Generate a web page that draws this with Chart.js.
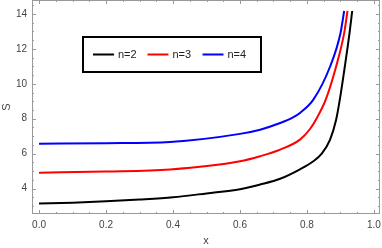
<!DOCTYPE html>
<html>
<head>
<meta charset="utf-8">
<script src="https://cdn.jsdelivr.net/npm/chart.js@4.4.1/dist/chart.umd.min.js"></script>
<style>
html,body{margin:0;padding:0;background:#fff;}
#wrap{width:382px;height:248px;position:relative;}
</style>
</head>
<body>
<div id="wrap"><canvas id="c" width="382" height="248"></canvas></div>
<script>
// ---- data ----
const seriesLabels = ["n=2", "n=3", "n=4"];
const seriesColors = ["#000000", "#ff0000", "#0000ff"];

const n2X = [0, 0.1, 0.2, 0.3, 0.4, 0.5, 0.6, 0.66, 0.72, 0.779, 0.819, 0.844, 0.869, 0.887, 0.898, 0.913, 0.927, 0.935];
const n2Y = [3.14, 3.19, 3.27, 3.37, 3.5, 3.72, 3.96, 4.23, 4.56, 5.1, 5.56, 6.0, 6.8, 7.94, 9.09, 10.99, 12.9, 14.17];

const n3X = [0, 0.2, 0.391, 0.6, 0.66, 0.72, 0.779, 0.809, 0.83, 0.856, 0.887, 0.911, 0.921];
const n3Y = [4.91, 4.97, 5.09, 5.56, 5.85, 6.23, 6.8, 7.41, 8.06, 9.09, 10.99, 12.9, 14.17];

const n4X = [0, 0.2, 0.391, 0.6, 0.66, 0.72, 0.757, 0.779, 0.819, 0.869, 0.9, 0.911];
const n4Y = [6.57, 6.6, 6.67, 7.13, 7.37, 7.75, 8.06, 8.33, 9.09, 10.99, 12.9, 14.17];

const xTicks = [0, 0.2, 0.4, 0.6, 0.8, 1.0];
const yTicks = [4, 6, 8, 10, 12, 14];
const xTitle = "x";
const yTitle = "S";

function pts(xs, ys){ return xs.map((x,i)=>({x:x, y:ys[i]})); }

const allX = [n2X, n3X, n4X];
const allY = [n2Y, n3Y, n4Y];

Chart.defaults.font.family = "'Liberation Sans', Arial, sans-serif";
Chart.defaults.font.size = 10;
Chart.defaults.color = "#444";

const framePlugin = {
  id: 'frame',
  afterDraw(chart){
    const ctx = chart.ctx;
    const xs = chart.scales.x, ys = chart.scales.y;
    const L = chart.chartArea.left, R = chart.chartArea.right, T = chart.chartArea.top, B = chart.chartArea.bottom;
    ctx.save();
    ctx.strokeStyle = '#999';
    ctx.lineWidth = 1;
    ctx.strokeRect(Math.round(L)+0.5, Math.round(T)+0.5, Math.round(R-L)-1, Math.round(B-T)-1);
    ctx.beginPath();
    for (let k = 0; k <= 20; k++){
      const v = k*0.05;
      const px = Math.round(xs.getPixelForValue(v)) + 0.5;
      const len = (k % 4 === 0) ? 4 : 2;
      ctx.moveTo(px, B); ctx.lineTo(px, B - len);
      ctx.moveTo(px, T); ctx.lineTo(px, T + len);
    }
    for (let k = 6; k <= 29; k++){
      const v = k*0.5;
      if (v < ys.min || v > ys.max) continue;
      const py = Math.round(ys.getPixelForValue(v)) + 0.5;
      const len = (k % 4 === 0) ? 4 : 2;
      ctx.moveTo(L, py); ctx.lineTo(L + len, py);
      ctx.moveTo(R, py); ctx.lineTo(R - len, py);
    }
    ctx.stroke();

    // legend box
    ctx.strokeStyle = '#000';
    ctx.lineWidth = 2;
    ctx.strokeRect(83, 37, 178, 35);
    const starts = [93, 147.5, 202.5];
    ctx.font = "11px 'Liberation Sans', Arial, sans-serif";
    ctx.textBaseline = 'middle';
    ctx.textAlign = 'left';
    chart.data.datasets.forEach((ds, i) => {
      const x0 = starts[i], y0 = 54.5;
      ctx.strokeStyle = ds.borderColor;
      ctx.lineWidth = 2;
      ctx.beginPath(); ctx.moveTo(x0, y0); ctx.lineTo(x0 + 21, y0); ctx.stroke();
      ctx.fillStyle = '#222';
      ctx.fillText(ds.label, x0 + 25, y0 + 0.5);
    });
    ctx.restore();
  }
};

new Chart(document.getElementById('c'), {
  type: 'scatter',
  data: {
    datasets: seriesLabels.map((lab, i) => ({
      label: lab,
      data: pts(allX[i], allY[i]),
      showLine: true,
      borderColor: seriesColors[i],
      backgroundColor: seriesColors[i],
      borderWidth: 2,
      pointRadius: 0,
      cubicInterpolationMode: 'monotone',
      fill: false
    }))
  },
  options: {
    responsive: false,
    animation: false,
    devicePixelRatio: 1,
    layout: { padding: { top: 0, right: 2, bottom: 0, left: 0 } },
    plugins: { legend: { display: false }, tooltip: { enabled: false } },
    scales: {
      x: {
        type: 'linear',
        min: -0.021, max: 1.018,
        afterBuildTicks(s){ s.ticks = xTicks.map(v => ({value: v})); },
        afterFit(s){ s.height = 34; s.paddingLeft = 0; s.paddingRight = 0; },
        grid: { display: false, drawTicks: false },
        border: { display: false },
        ticks: { padding: 5, maxRotation: 0, autoSkip: false, callback: v => Number(v).toFixed(1) },
        title: { display: true, text: xTitle, font: { size: 11 }, padding: 0, color: '#444' }
      },
      y: {
        type: 'linear',
        min: 2.54, max: 14.8,
        afterBuildTicks(s){ s.ticks = yTicks.map(v => ({value: v})); },
        afterFit(s){ s.width = 32; s.paddingTop = 0; s.paddingBottom = 0; },
        grid: { display: false, drawTicks: false },
        border: { display: false },
        ticks: { padding: 5, autoSkip: false, callback: v => String(v) },
        title: { display: true, text: yTitle, font: { size: 11 }, padding: 0, color: '#444' }
      }
    }
  },
  plugins: [framePlugin]
});
</script>
</body>
</html>
